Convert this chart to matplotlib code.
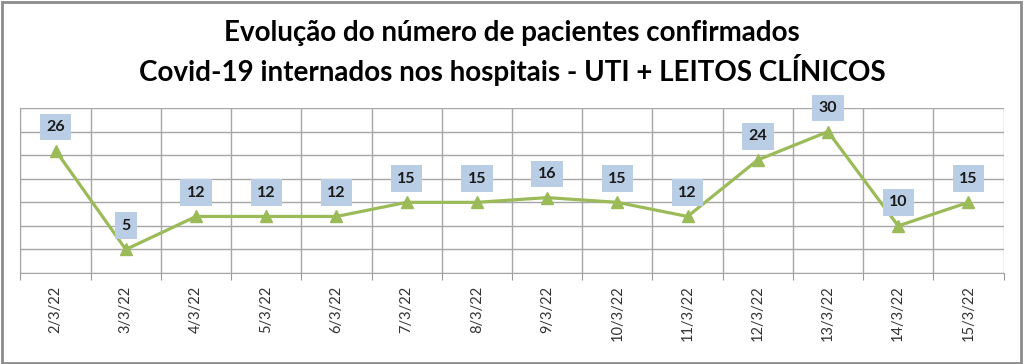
import matplotlib.pyplot as plt
from matplotlib.patches import Rectangle

datas = ["2/3/22", "3/3/22", "4/3/22", "5/3/22", "6/3/22", "7/3/22", "8/3/22",
         "9/3/22", "10/3/22", "11/3/22", "12/3/22", "13/3/22", "14/3/22", "15/3/22"]
pacientes = [26, 5, 12, 12, 12, 15, 15, 16, 15, 12, 24, 30, 10, 15]

titulo = ("Evolução do número de pacientes confirmados\n"
          "Covid-19 internados nos hospitais - UTI + LEITOS CLÍNICOS")

plt.rcParams["font.family"] = ["Lato", "DejaVu Sans"]

fig = plt.figure(figsize=(10.24, 3.64), dpi=100)
ax = fig.add_axes([0.020, 0.25, 0.960, 0.453])

x = list(range(len(datas)))
ax.plot(x, pacientes, color="#9BBB59", lw=2.3, marker="^", markersize=9,
        zorder=3)

for xi, v in zip(x, pacientes):
    ax.annotate(str(v), (xi, v), xytext=(0, 17), textcoords="offset points",
                ha="center", va="center", fontsize=11.5, fontweight="bold",
                color="#1a1a1a",
                bbox=dict(boxstyle="square,pad=0.4", fc="#B9CDE5", ec="none"))

ax.set_xlim(-0.5, len(datas) - 0.5)
ax.set_ylim(0, 35)
ax.set_yticks(range(0, 36, 5))
ax.set_yticklabels([])
ax.tick_params(axis="y", length=0)

# gridlines between categories, ticks at the boundaries
ax.set_xticks([i - 0.5 for i in range(len(datas) + 1)])
ax.set_xticklabels([])
ax.set_xticks(x, minor=True)
ax.set_xticklabels(datas, minor=True, rotation=90, fontsize=10.5,
                   color="#333333")
ax.tick_params(axis="x", which="major", length=5, color="#999999")
ax.tick_params(axis="x", which="minor", length=0, pad=9)
ax.grid(True, which="major", color="#A6A6A6", lw=1)

for s in ax.spines.values():
    s.set_color("#A6A6A6")
ax.spines["top"].set_visible(False)
ax.spines["right"].set_visible(False)

fig.text(0.5, 0.855, titulo, ha="center", va="center", fontsize=20,
         fontweight="bold", linespacing=1.3)

fig.patches.append(Rectangle((0.002, 0.004), 0.995, 0.99, transform=fig.transFigure,
                             fill=False, ec="#8C8C8C", lw=2))

fig.savefig("out.png", dpi=100)
